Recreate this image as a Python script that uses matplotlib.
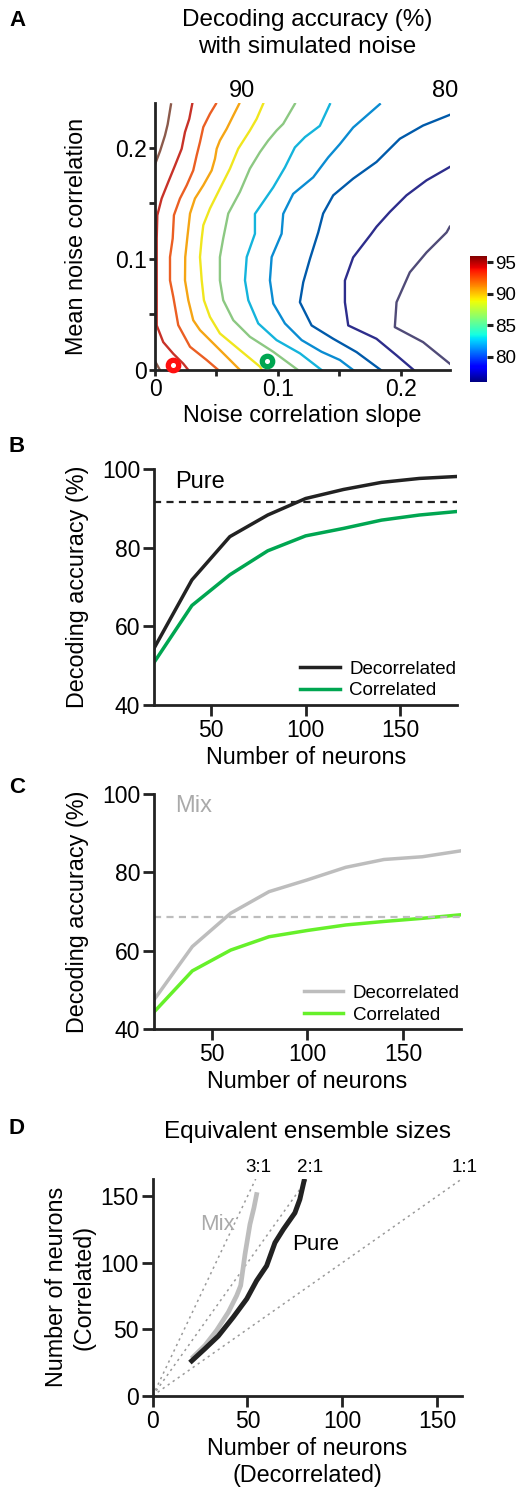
import numpy as np
import matplotlib.pyplot as plt
from matplotlib import cm
from matplotlib.colors import Normalize

plt.rcParams['font.family'] = ['Liberation Sans', 'DejaVu Sans']

levels = [96, 94, 92, 90, 88, 86, 84, 82, 80, 78, 76]
level_colors = ['#8c5a4b', '#c83228', '#eb5f23', '#f5a514', '#f0e61e', '#8cc882',
                '#14b4dc', '#0a8cd2', '#005aaa', '#2d2d8c', '#504b78']

nan = np.nan
iso96_x = [0.013, 0.0103, 0.0081, 0.0041, 0.0, nan, 0.0, 0.004]
iso96_y = [0.239, 0.221, 0.211, 0.197, 0.185, nan, 0.008, 0.0]
iso94_x = [0.0303, 0.0279, 0.0244, 0.0217, 0.0163, 0.0108, 0.0054, 0.0019, 0.0014,
           0.0014, 0.0014, 0.0067, 0.0149, 0.0230, 0.0271]
iso94_y = [0.2395, 0.2260, 0.2141, 0.1991, 0.1841, 0.1692, 0.1543, 0.1393, 0.1184,
           0.0807, 0.0401, 0.0251, 0.0146, 0.0057, 0.0]
iso92_x = [0.0496, 0.0447, 0.0393, 0.0366, 0.0339, 0.0311, 0.0258, 0.0203, 0.0154,
           0.0144, 0.0122, 0.0122, 0.0149, 0.0189, 0.0285, 0.0420, 0.0515]
iso92_y = [0.2395, 0.2305, 0.2186, 0.2051, 0.1931, 0.1796, 0.1662, 0.1543, 0.1393,
           0.1184, 0.1016, 0.0807, 0.0657, 0.0404, 0.0209, 0.0090, 0.0]
iso90_x = [0.0685, 0.0637, 0.0583, 0.0528, 0.0502, 0.0488, 0.0461, 0.0393, 0.0325,
           0.0285, 0.0264, 0.0246, 0.0244, 0.0271, 0.0311, 0.0366, 0.0502, 0.0610, 0.0691]
iso90_y = [0.2395, 0.2290, 0.2170, 0.2065, 0.1991, 0.1901, 0.1796, 0.1662, 0.1543,
           0.1408, 0.1202, 0.1016, 0.0807, 0.0628, 0.0448, 0.0359, 0.0209, 0.0090, 0.0]
iso88_x = [0.0880, 0.0827, 0.0772, 0.0677, 0.0610, 0.0528, 0.0447, 0.0393, 0.0380,
           0.0366, 0.0380, 0.0398, 0.0447, 0.0528, 0.0691, 0.0854, 0.0870]
iso88_y = [0.2395, 0.2260, 0.2155, 0.1991, 0.1812, 0.1632, 0.1453, 0.1303, 0.1184,
           0.1016, 0.0807, 0.0628, 0.0478, 0.0329, 0.0179, 0.0030, 0.0]
iso86_x = [0.1138, 0.1043, 0.0989, 0.0921, 0.0854, 0.0772, 0.0691, 0.0596, 0.0555,
           0.0528, 0.0528, 0.0555, 0.0637, 0.0772, 0.0962, 0.1163]
iso86_y = [0.2395, 0.2215, 0.2155, 0.2065, 0.1961, 0.1812, 0.1603, 0.1408, 0.1184,
           0.1016, 0.0807, 0.0628, 0.0448, 0.0299, 0.0164, 0.0]
iso84_x = [0.1423, 0.1341, 0.1220, 0.1138, 0.1057, 0.0962, 0.0813, 0.0813, 0.0746,
           0.0732, 0.0759, 0.0840, 0.0989, 0.1179, 0.1355]
iso84_y = [0.2392, 0.2197, 0.2096, 0.2003, 0.1823, 0.1644, 0.1405, 0.1226, 0.1016,
           0.0807, 0.0628, 0.0419, 0.0269, 0.0150, 0.0]
iso82_x = [0.1829, 0.1612, 0.1504, 0.1409, 0.1287, 0.1124, 0.1043, 0.1030, 0.0949,
           0.0935, 0.0962, 0.1057, 0.1193, 0.1355, 0.1504, 0.1612]
iso82_y = [0.2392, 0.2182, 0.2033, 0.1913, 0.1734, 0.1585, 0.1405, 0.1226, 0.1016,
           0.0807, 0.0598, 0.0419, 0.0269, 0.0164, 0.0090, 0.0]
iso80_x = [0.2398, 0.2181, 0.1992, 0.1802, 0.1612, 0.1450, 0.1368, 0.1328, 0.1260,
           0.1206, 0.1179, 0.1274, 0.1450, 0.1640, 0.1837]
iso80_y = [0.2296, 0.2200, 0.2081, 0.1872, 0.1722, 0.1572, 0.1408, 0.1238, 0.0998,
           0.0789, 0.0610, 0.0401, 0.0281, 0.0161, 0.0]
iso78_x = [0.2398, 0.2209, 0.2046, 0.1911, 0.1802, 0.1756, 0.1612, 0.1545, 0.1545,
           0.1572, 0.1802, 0.1965, 0.2105]
iso78_y = [0.1827, 0.1707, 0.1572, 0.1423, 0.1289, 0.1220, 0.1013, 0.0805, 0.0610,
           0.0401, 0.0281, 0.0132, 0.0]
iso76_x = [0.2398, 0.2372, 0.2209, 0.2073, 0.1965, 0.1951, 0.2181, 0.2398]
iso76_y = [0.1289, 0.1238, 0.1058, 0.0879, 0.0610, 0.0386, 0.0251, 0.0057]

iso_x = [iso96_x, iso94_x, iso92_x, iso90_x, iso88_x, iso86_x,
         iso84_x, iso82_x, iso80_x, iso78_x, iso76_x]
iso_y = [iso96_y, iso94_y, iso92_y, iso90_y, iso88_y, iso86_y,
         iso84_y, iso82_y, iso80_y, iso78_y, iso76_y]

# the two example conditions marked on the map
pure_point = (0.0149, 0.0045)
mix_point = (0.0913, 0.0081)

# ---------------- Panels B, C: accuracy vs ensemble size
n_neurons = [20, 40, 60, 80, 100, 120, 140, 160, 180]
pure_decorr = [54.4, 71.8, 82.8, 88.3, 92.5, 94.8, 96.6, 97.6, 98.1]
pure_corr = [50.8, 65.3, 73.1, 79.2, 83.0, 84.9, 87.0, 88.3, 89.2]
pure_ref = 91.7
mix_decorr = [47.5, 61.1, 69.6, 75.1, 78.1, 81.3, 83.3, 84.0, 85.5]
mix_corr = [44.4, 54.9, 60.2, 63.6, 65.2, 66.6, 67.5, 68.3, 69.2]
mix_ref = 68.7

# ---------------- Panel D: equivalent ensemble sizes
pure_eq_decorr = [20.6, 27.6, 34.6, 42.5, 49.6, 54.8, 60.1, 64.5, 68.9, 75.0, 77.6, 79.8]
pure_eq_corr = [26.2, 35.4, 44.9, 59.1, 72.8, 86.5, 97.7, 115.1, 125.1, 137.5, 147.6, 161.3]
mix_eq_decorr = [21.4, 27.6, 33.7, 39.9, 44.3, 46.4, 48.7, 51.3, 53.4, 54.8]
mix_eq_corr = [29.2, 37.9, 49.1, 62.8, 75.3, 82.8, 106.5, 128.9, 141.3, 151.3]
ratios = [3, 2, 1]
ratio_labels = ['3:1', '2:1', '1:1']

W, H = 518, 1490
fig = plt.figure(figsize=(W / 100, H / 100), dpi=100)
ink = '#222222'
FS_TICK = 16.5
FS_LAB = 16.8


def style(ax, tick_len=8):
    for s in ['top', 'right']:
        ax.spines[s].set_visible(False)
    for s in ['left', 'bottom']:
        ax.spines[s].set_linewidth(2)
        ax.spines[s].set_color(ink)
    ax.tick_params(direction='out', length=tick_len, width=2, labelsize=FS_TICK,
                   color=ink, pad=2)


def ftext(x, y, s, **kw):
    fig.text(x / W, 1 - y / H, s, **kw)


# ---- A
axA = fig.add_axes([155 / W, 1 - 370 / H, 295 / W, 266.7 / H])
for xs, ys, c in zip(iso_x, iso_y, level_colors):
    axA.plot(xs, ys, color=c, lw=1.7, solid_joinstyle='round')
axA.plot(*pure_point, 'o', ms=7.5, mfc='white', mec='#ff1010', mew=3.8,
         clip_on=False, zorder=5)
axA.plot(*mix_point, 'o', ms=7.5, mfc='white', mec='#00a651', mew=3.8,
         clip_on=False, zorder=5)
axA.set_xlim(0, 0.24)
axA.set_ylim(0, 0.24)
style(axA, tick_len=4)
axA.set_xticks([0, 0.05, 0.1, 0.15, 0.2])
axA.set_xticklabels(['0', '', '0.1', '', '0.2'])
axA.set_yticks([0, 0.05, 0.1, 0.15, 0.2])
axA.set_yticklabels(['0', '', '0.1', '', '0.2'])
axA.set_xlabel('Noise correlation slope', fontsize=FS_LAB, labelpad=2)
axA.set_ylabel('Mean noise correlation', fontsize=FS_LAB, labelpad=19)
axA.text(0.0707, 0.251, '90', fontsize=17, ha='center', va='center')
axA.text(0.2358, 0.251, '80', fontsize=17, ha='center', va='center')

cax = fig.add_axes([470 / W, 1 - 382 / H, 17 / W, 126 / H])
sm = cm.ScalarMappable(norm=Normalize(76, 96), cmap='jet')
cb = fig.colorbar(sm, cax=cax, ticks=[80, 85, 90, 95])
cb.outline.set_visible(False)
cax.tick_params(length=4, width=2.2, labelsize=13.5, pad=2, color=ink)

ftext(307, 20, 'Decoding accuracy (%)', fontsize=17.5, ha='center', va='center')
ftext(307, 47, 'with simulated noise', fontsize=17.5, ha='center', va='center')

# ---- B
axB = fig.add_axes([154 / W, 1 - 705 / H, 303.3 / W, 236 / H])
axB.plot(n_neurons, pure_decorr, color=ink, lw=2.5, label='Decorrelated')
axB.plot(n_neurons, pure_corr, color='#00a651', lw=2.5, label='Correlated')
axB.axhline(pure_ref, color=ink, lw=1.6, ls=(0, (3.2, 2.4)))
axB.set_xlim(20, 180)
axB.set_ylim(40, 100)
axB.set_xticks([50, 100, 150])
axB.set_yticks([40, 60, 80, 100])
style(axB)
axB.text(31, 96.8, 'Pure', fontsize=17, va='center')
axB.set_xlabel('Number of neurons', fontsize=FS_LAB, labelpad=3)
axB.set_ylabel('Decoding accuracy (%)', fontsize=FS_LAB, labelpad=9)
axB.legend(frameon=False, loc='lower right', bbox_to_anchor=(1.015, 0.0),
           fontsize=13.5, handlelength=2.1, handletextpad=0.5, labelspacing=0.25,
           borderpad=0, borderaxespad=0.3)

# ---- C
axC = fig.add_axes([154 / W, 1 - 1029.3 / H, 306.7 / W, 235.3 / H])
axC.plot(n_neurons, mix_decorr, color='#bdbdbd', lw=2.5, label='Decorrelated')
axC.plot(n_neurons, mix_corr, color='#66f02a', lw=2.5, label='Correlated')
axC.axhline(mix_ref, color='#bdbdbd', lw=1.6, ls=(0, (3.2, 2.4)))
axC.set_xlim(20, 180)
axC.set_ylim(40, 100)
axC.set_xticks([50, 100, 150])
axC.set_yticks([40, 60, 80, 100])
style(axC)
axC.text(31, 97, 'Mix', fontsize=17, va='center', color='#aaaaaa')
axC.set_xlabel('Number of neurons', fontsize=FS_LAB, labelpad=3)
axC.set_ylabel('Decoding accuracy (%)', fontsize=FS_LAB, labelpad=9)
axC.legend(frameon=False, loc='lower right', bbox_to_anchor=(1.015, 0.0),
           fontsize=13.5, handlelength=2.1, handletextpad=0.5, labelspacing=0.25,
           borderpad=0, borderaxespad=0.3)

# ---- D
lim = 163
axD = fig.add_axes([152.7 / W, 1 - 1395.7 / H, 309 / W, 216.7 / H])
for r, lab in zip(ratios, ratio_labels):
    axD.plot([0, lim / r], [0, lim], color='#9a9a9a', lw=1.1, ls=(0, (1.5, 2.5)))
    axD.text(lim / r + 1.5, lim + 9, lab, fontsize=13.5, ha='center', va='center')
axD.plot(mix_eq_decorr, mix_eq_corr, color='#bdbdbd', lw=3.4)
axD.plot(pure_eq_decorr, pure_eq_corr, color=ink, lw=3.6)
axD.set_xlim(0, lim)
axD.set_ylim(0, lim)
axD.set_xticks([0, 50, 100, 150])
axD.set_yticks([0, 50, 100, 150])
style(axD)
axD.text(34, 129, 'Mix', fontsize=16, ha='center', va='center', color='#aaaaaa')
axD.text(86, 114, 'Pure', fontsize=16, ha='center', va='center')
axD.set_xlabel('Number of neurons\n(Decorrelated)', fontsize=FS_LAB, labelpad=3,
               linespacing=1.25)
axD.set_ylabel('Number of neurons\n(Correlated)', fontsize=FS_LAB, labelpad=3.5,
               linespacing=1.25)
ftext(307, 1132, 'Equivalent ensemble sizes', fontsize=17.5, ha='center', va='center')

# panel letters
for lab, y in zip(['A', 'B', 'C', 'D'], [21, 447, 787, 1128]):
    ftext(9, y, lab, fontsize=16, fontweight='bold', ha='left', va='center')

fig.savefig('out.png', dpi=100)
